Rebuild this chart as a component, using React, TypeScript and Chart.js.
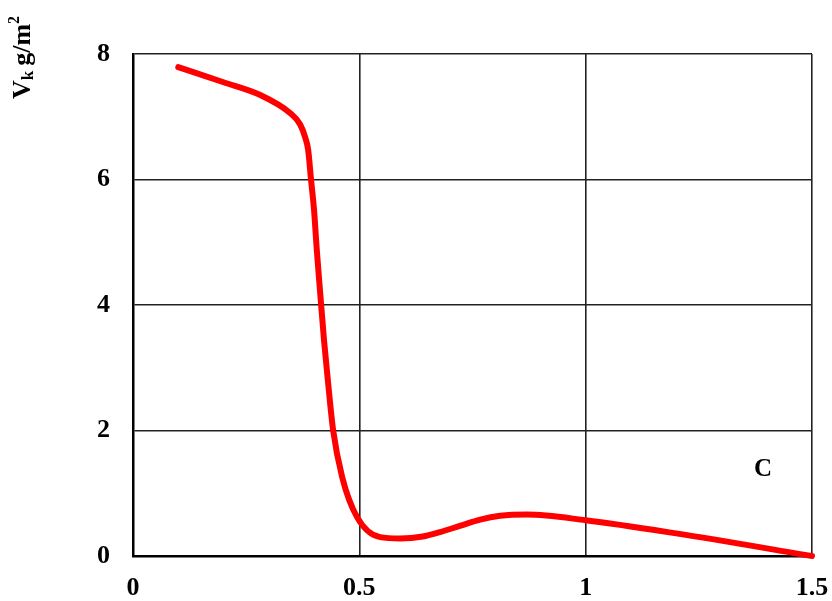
import React, { useEffect, useRef } from "react";
import { Chart, registerables } from "chart.js";

Chart.register(...registerables);

const xValues = [0.1, 0.2, 0.28, 0.347, 0.369, 0.38, 0.387, 0.393, 0.4, 0.406, 0.413, 0.422, 0.431, 0.442, 0.462, 0.495, 0.546, 0.59, 0.64, 0.678, 0.722, 0.767, 0.811, 0.87, 1.0, 1.2, 1.5];
const yValues = [7.79, 7.55, 7.35, 7.06, 6.88, 6.68, 6.47, 6.02, 5.51, 4.88, 4.24, 3.44, 2.76, 2.01, 1.26, 0.62, 0.3, 0.28, 0.31, 0.38, 0.48, 0.58, 0.64, 0.66, 0.57, 0.36, 0.0];
const xTicks = [0, 0.5, 1, 1.5];
const yTicks = [0, 2, 4, 6, 8];
const curveLabel = "C";
const curveLabelPos = { x: 1.392, y: 1.37 };

const FONT = '"Liberation Serif", "Times New Roman", serif';

const annotations = {
  id: "annotations",
  afterDraw(chart: any) {
    const ctx = chart.ctx;
    const xs = chart.scales.x;
    const ys = chart.scales.y;
    ctx.save();
    ctx.fillStyle = "#000";
    ctx.font = `bold 25px ${FONT}`;
    ctx.textAlign = "center";
    ctx.textBaseline = "middle";
    ctx.fillText(curveLabel, xs.getPixelForValue(curveLabelPos.x), ys.getPixelForValue(curveLabelPos.y));
    // rotated y-axis title
    ctx.translate(23, 99);
    ctx.rotate(-Math.PI / 2);
    ctx.textAlign = "left";
    ctx.textBaseline = "middle";
    let x = 0;
    ctx.font = `bold 26px ${FONT}`;
    ctx.fillText("V", x, 0);
    x += ctx.measureText("V").width;
    ctx.font = `bold 17px ${FONT}`;
    ctx.fillText("k", x, 6);
    x += ctx.measureText("k").width + 5;
    ctx.font = `bold 26px ${FONT}`;
    ctx.fillText("g/m", x, 0);
    x += ctx.measureText("g/m").width;
    ctx.font = `bold 16px ${FONT}`;
    ctx.fillText("2", x, -8);
    ctx.restore();
  },
};

export default function App() {
  const ref = useRef<HTMLCanvasElement>(null);
  useEffect(() => {
    if (!ref.current) return;
    const chart = new Chart(ref.current, {
      type: "line",
      data: {
        datasets: [
          {
            data: xValues.map((x, i) => ({ x, y: yValues[i] })),
            borderColor: "#ff0000",
            borderWidth: 6,
            pointRadius: 0,
            cubicInterpolationMode: "monotone",
            borderCapStyle: "round",
            borderJoinStyle: "round",
            clip: false,
            fill: false,
          },
        ],
      },
      options: {
        animation: false,
        responsive: false,
        layout: { padding: { top: 54, right: 20, left: 0, bottom: 0 } },
        plugins: { legend: { display: false }, tooltip: { enabled: false } },
        scales: {
          x: {
            type: "linear",
            min: 0,
            max: 1.5,
            afterBuildTicks: (s: any) => {
              s.ticks = xTicks.map((v) => ({ value: v }));
            },
            afterFit: (s: any) => {
              s.height = 45;
              s.paddingLeft = 0;
              s.paddingRight = 0;
            },
            grid: { color: "#222", lineWidth: 1.6, drawTicks: false },
            border: { color: "#000", width: 2.5 },
            ticks: {
              color: "#000",
              font: { family: FONT, size: 26, weight: "bold" },
              padding: 17,
              maxRotation: 0,
              autoSkip: false,
              callback: (v: any) => String(v),
            },
          },
          y: {
            type: "linear",
            min: 0,
            max: 8,
            afterBuildTicks: (s: any) => {
              s.ticks = yTicks.map((v) => ({ value: v }));
            },
            afterFit: (s: any) => {
              s.width = 133;
              s.paddingTop = 0;
              s.paddingBottom = 0;
            },
            grid: { color: "#222", lineWidth: 1.6, drawTicks: false },
            border: { color: "#000", width: 2.5 },
            ticks: {
              color: "#000",
              font: { family: FONT, size: 26, weight: "bold" },
              padding: 23,
              autoSkip: false,
              callback: (v: any) => String(v),
            },
          },
        },
      },
      plugins: [annotations],
    } as any);
    return () => chart.destroy();
  }, []);
  return (
    <div style={{ position: "fixed", left: 0, top: 0, width: 832, height: 601, background: "#fff" }}>
      <canvas ref={ref} width={832} height={601} style={{ width: 832, height: 601 }} />
    </div>
  );
}
